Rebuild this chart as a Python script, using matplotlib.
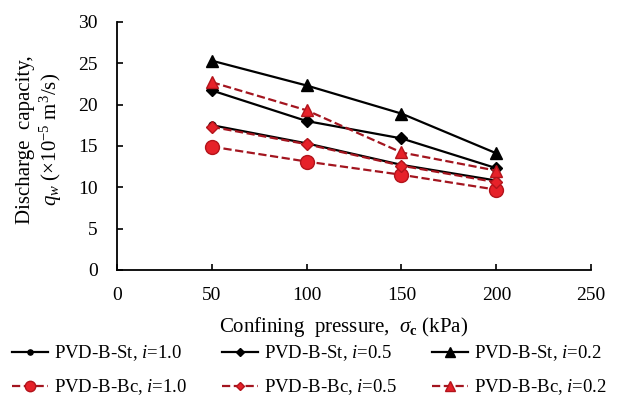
import numpy as np
import matplotlib
matplotlib.use("Agg")
import matplotlib.pyplot as plt

plt.rcParams['font.family'] = ['Liberation Serif', 'DejaVu Serif']
plt.rcParams['mathtext.fontset'] = 'custom'
plt.rcParams['mathtext.rm'] = 'Liberation Serif'
plt.rcParams['mathtext.it'] = 'Liberation Serif:italic'
plt.rcParams['mathtext.bf'] = 'Liberation Serif:bold'

##
#    Data
##
pressure = [50, 100, 150, 200]                 #  confining pressure (kPa)
st_i10 = [17.5, 15.3, 12.7, 10.8]              #  PVD-B-St, i=1.0
st_i05 = [21.7, 18.0, 15.9, 12.3]              #  PVD-B-St, i=0.5
st_i02 = [25.3, 22.3, 18.9, 14.1]              #  PVD-B-St, i=0.2
bc_i10 = [14.9, 13.1, 11.5, 9.7]               #  PVD-B-Bc, i=1.0
bc_i05 = [17.3, 15.2, 12.6, 10.6]              #  PVD-B-Bc, i=0.5
bc_i02 = [22.7, 19.3, 14.2, 12.0]              #  PVD-B-Bc, i=0.2

labels = ["PVD-B-St, $i$=1.0", "PVD-B-St, $i$=0.5", "PVD-B-St, $i$=0.2",
          "PVD-B-Bc, $i$=1.0", "PVD-B-Bc, $i$=0.5", "PVD-B-Bc, $i$=0.2"]

red_face = '#e62129'
red_edge = '#b3141b'
red_line = '#a3151f'

fig = plt.figure(figsize=(6.19, 4.12), dpi=100)
ax = fig.add_axes([0.189, 0.345, 0.766, 0.602])

h1, = ax.plot(pressure, st_i10, '-', color='k', lw=1.6, marker='o', ms=5)
h2, = ax.plot(pressure, st_i05, '-', color='k', lw=1.6, marker='D', ms=6)
h3, = ax.plot(pressure, st_i02, '-', color='k', lw=1.6, marker='^', ms=9)
h4, = ax.plot(pressure, bc_i10, '--', color=red_line, lw=1.6, marker='o', ms=10,
              mfc=red_face, mec=red_edge)
h5, = ax.plot(pressure, bc_i05, '--', color=red_line, lw=1.6, marker='D', ms=6,
              mfc=red_face, mec=red_edge)
h6, = ax.plot(pressure, bc_i02, '--', color=red_line, lw=1.6, marker='^', ms=9,
              mfc=red_face, mec=red_edge)

ax.set_xlim(0, 250)
ax.set_ylim(0, 30)
ax.set_xticks(np.arange(0, 251, 50))
ax.set_yticks(np.arange(0, 31, 5))
ax.tick_params(direction='in', labelsize=14, length=4, width=1.2)
ax.tick_params(axis='x', pad=12)
ax.tick_params(axis='y', pad=14)
ax.spines['top'].set_visible(False)
ax.spines['right'].set_visible(False)
ax.spines['left'].set_linewidth(1.3)
ax.spines['bottom'].set_linewidth(1.3)

ax.set_xlabel("Confining  pressure,  $\\sigma_\\mathbf{c}$ (kPa)", fontsize=15)
ax.xaxis.label.set_va('center')
ax.xaxis.set_label_coords(0.477, -0.23)
ax.set_ylabel("Discharge  capacity,\n$q_w$ (\u00d710$^{-5}$ m$^3$/s)", fontsize=15,
              linespacing=1.15)
ax.yaxis.label.set_va('center')
ax.yaxis.set_label_coords(-0.163, 0.524)

# legend rows: St series on top, Bc series below
order = [h1, h4, h2, h5, h3, h6]
order_labels = [labels[0], labels[3], labels[1], labels[4], labels[2], labels[5]]
fig.legend(order, order_labels, loc='lower center',
           bbox_to_anchor=(0.5, -0.005), ncol=3, frameon=False, fontsize=13.5,
           handlelength=1.9, columnspacing=1.9, handletextpad=0.3,
           labelspacing=0.75, markerscale=0.75)

plt.savefig("out.png", dpi=100)
